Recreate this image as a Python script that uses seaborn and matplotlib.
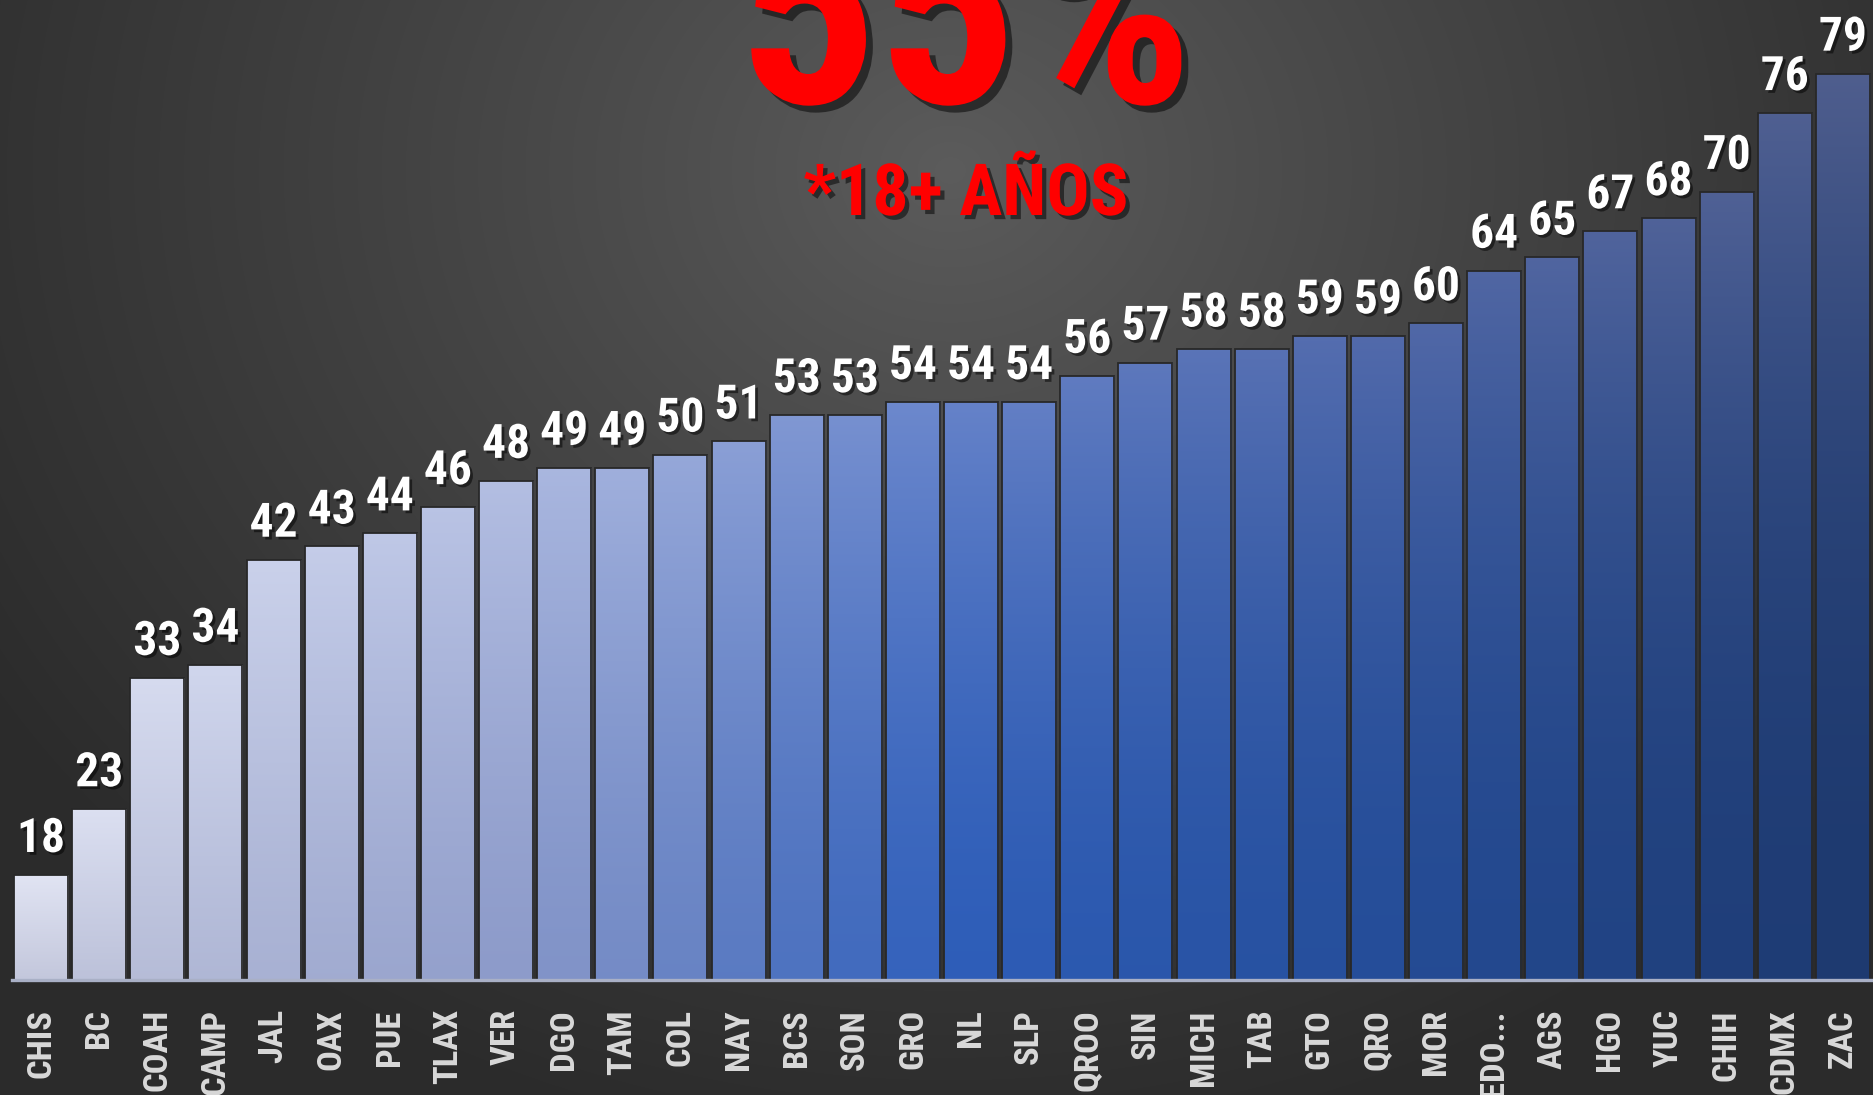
import os
import numpy as np
import pandas as pd
import matplotlib
matplotlib.use("Agg")
import matplotlib.pyplot as plt
import seaborn as sns
from matplotlib import font_manager as fm
from matplotlib import patheffects as pe
from matplotlib.colors import LinearSegmentedColormap

# data
states = ["CHIS", "BC", "COAH", "CAMP", "JAL", "OAX", "PUE", "TLAX", "VER", "DGO",
          "TAM", "COL", "NAY", "BCS", "SON", "GRO", "NL", "SLP", "QROO", "SIN",
          "MICH", "TAB", "GTO", "QRO", "MOR", "EDO...", "AGS", "HGO", "YUC", "CHIH",
          "CDMX", "ZAC"]
values = [18, 23, 33, 34, 42, 43, 44, 46, 48, 49, 49, 50, 51, 53, 53, 54, 54, 54,
          56, 57, 58, 58, 59, 59, 60, 64, 65, 67, 68, 70, 76, 79]
headline = "55%"
subtitle = "*18+ AÑOS"

df = pd.DataFrame({"state": states, "value": values})

W, H, DPI = 1874, 1095, 100


# look for a narrow bold font, the original uses a very condensed face
def pick_font():
    prefs = ["notosans-extracondensedbold", "notosans-condensedbold",
             "liberationsansnarrow-bold.", "robotocondensed-bold.",
             "opensans_condensed-bold.", "dejavusanscondensed-bold."]
    files = fm.findSystemFonts()
    for p in prefs:
        for f in files:
            if os.path.basename(f).lower().startswith(p):
                return fm.FontProperties(fname=f)
    return fm.FontProperties(family="DejaVu Sans", weight="bold")


base_fp = pick_font()

fig = plt.figure(figsize=(W / DPI, H / DPI), dpi=DPI)
renderer = fig.canvas.get_renderer()


def fit_size(txt, target_w, max_cap_px):
    t = fig.text(0, 0, txt, fontproperties=base_fp, fontsize=100)
    w = t.get_window_extent(renderer).width
    t.remove()
    size = 100 * target_w / w
    return min(size, max_cap_px / 0.72 * 72 / DPI)


def fp_size(size):
    fp = base_fp.copy()
    fp.set_size(size)
    return fp


# background: soft radial gray
bg = fig.add_axes([0, 0, 1, 1], zorder=0)
yy, xx = np.mgrid[0:H, 0:W]
r = np.sqrt(((xx - 950) / 1150.0) ** 2 + ((yy - 170) / 1000.0) ** 2)
r = np.clip(r, 0, 1) ** 0.9
g = (0x5c * (1 - r) + 0x2b * r) / 255.0
bg.imshow(np.dstack([g, g, g]), aspect="auto", interpolation="bilinear")
bg.axis("off")

ax = fig.add_axes([12 / W, 115 / H, 1860 / W, 980 / H], zorder=1)
ax.set_facecolor("none")

sns.barplot(data=df, x="state", y="value", ax=ax, width=0.93, saturation=1,
            color="#4472c4", edgecolor="#282828", linewidth=1.3)

ylo, yhi = 10, 84.6

# bar shading: colour runs light lavender -> blue -> navy, lighter at the top
bottom_cmap = LinearSegmentedColormap.from_list(
    "bot", [(0, "#c3c7dc"), (0.26, "#8d9bca"), (0.5, "#2f5fbb"),
            (0.75, "#254d98"), (1, "#1e3a70")])
top_cmap = LinearSegmentedColormap.from_list(
    "top", [(0, "#e1e4f3"), (0.26, "#b3bee2"), (0.5, "#6784cb"),
            (0.75, "#5169aa"), (1, "#4f5e8e")])

n = len(ax.patches)
for i, bar in enumerate(ax.patches):
    f = i / (n - 1)
    cb = np.array(bottom_cmap(f)[:3])
    ct = np.array(top_cmap(f)[:3])
    x0, w, h = bar.get_x(), bar.get_width(), bar.get_height()
    t = np.linspace(0, 1, 256)[:, None] ** (1 + 1.2 * f)
    grad = cb * (1 - t) + ct * t
    im = ax.imshow(grad[:, None, :], extent=(x0, x0 + w, ylo, h), origin="lower",
                   aspect="auto", interpolation="bilinear", zorder=1.5)
    im.set_clip_path(bar)
    bar.set_facecolor("none")
    bar.set_zorder(2)

ax.set_xlim(-0.5, n - 0.5)
ax.set_ylim(ylo, yhi)

for s in ["top", "left", "right"]:
    ax.spines[s].set_visible(False)
ax.spines["bottom"].set_color("#a9b0c6")
ax.spines["bottom"].set_linewidth(2.4)
ax.spines["bottom"].set_zorder(3)
ax.set_yticks([])
ax.set_xlabel("")
ax.set_ylabel("")

# value labels
val_fp = fp_size(fit_size("88", 48, 42))
shadow = [pe.withSimplePatchShadow(offset=(2, -2), shadow_rgbFace="black", alpha=0.5)]
for bar, v in zip(ax.patches, values):
    ax.annotate(str(v), xy=(bar.get_x() + bar.get_width() / 2, bar.get_height()),
                xytext=(0, 16.5), textcoords="offset points", ha="center",
                va="baseline", color="white", fontproperties=val_fp,
                path_effects=shadow, zorder=4, annotation_clip=False)

# state labels
tick_fp = fp_size(fit_size("CAMP", 86, 34))
ax.tick_params(axis="x", length=0, pad=21)
for lbl in ax.get_xticklabels():
    lbl.set_fontproperties(tick_fp)
    lbl.set_rotation(90)
    lbl.set_color("#d9d9d9")
    lbl.set_va("top")
    lbl.set_ha("center")

# headline
big_shadow = [pe.withSimplePatchShadow(offset=(5, -5), shadow_rgbFace="black", alpha=0.5)]
fig.text(966 / W, 1 - 103 / H, headline, ha="center", va="baseline", color="#ff0000",
         fontproperties=fp_size(fit_size(headline, 455, 400)),
         path_effects=big_shadow, zorder=5)
sub_shadow = [pe.withSimplePatchShadow(offset=(3, -3), shadow_rgbFace="black", alpha=0.5)]
fig.text(966 / W, 1 - 215 / H, subtitle, ha="center", va="baseline", color="#ff0000",
         fontproperties=fp_size(fit_size(subtitle, 325, 66)),
         path_effects=sub_shadow, zorder=5)

fig.savefig("out.png", dpi=DPI)
